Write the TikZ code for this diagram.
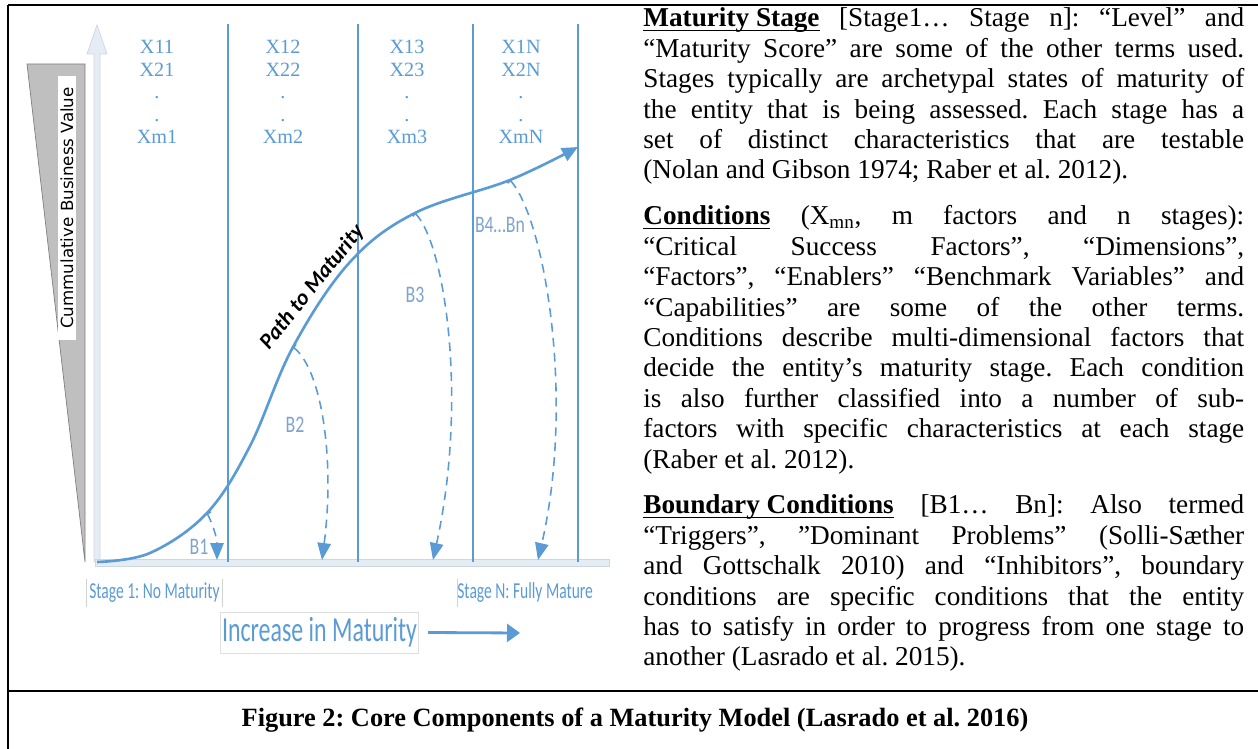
\documentclass[tikz,border=0pt]{standalone}
\usepackage{fontspec}
\setmainfont{Liberation Serif}
\newfontfamily\carlito{Carlito}
\newfontfamily\dejavu{DejaVu Sans}
\usepackage{xcolor}
\usepackage{graphicx}
\usetikzlibrary{arrows.meta,positioning}

\definecolor{mblue}{HTML}{5B9BD5}
\definecolor{bgrey}{HTML}{7FA3D0}
\definecolor{paleaxis}{HTML}{E6ECF3}
\definecolor{paleedge}{HTML}{CDD6E1}

% bold heading with a tight underline
\newsavebox{\headbox}
\newcommand{\headul}[1]{\sbox{\headbox}{\textbf{#1}}\rlap{\rule[-2.4pt]{\wd\headbox}{0.9pt}}\usebox{\headbox}}

\frenchspacing
\begin{document}
\begin{tikzpicture}[x=0.02cm, y=-0.02cm,
  border/.style={line width=1.4pt, black},
  stagebar/.style={mblue, line width=1.2pt},
  xlab/.style={font=\fontsize{11.5}{12.8}\selectfont, text=mblue, align=center, inner sep=0pt},
  blab/.style={font=\carlito\fontsize{13.5}{14}\selectfont, text=bgrey, inner sep=0pt},
  growth/.style={mblue, line width=1.5pt, -{Triangle[length=0.32cm, width=0.28cm]}},
  bdash/.style={mblue, line width=0.9pt, dash pattern=on 5pt off 3.5pt, {Bar[width=0.16cm]}-{Triangle[length=0.34cm, width=0.27cm]}},
  stagelab/.style={font=\carlito\fontsize{13}{14}\selectfont, text=mblue, inner sep=0pt, minimum height=0.54cm},
  para/.style={text width=342pt, align=justify, font=\fontsize{15.5}{17.3}\selectfont, inner sep=0pt, anchor=base west},
  >=Stealth
]
  \useasboundingbox (0,0) rectangle (1258,749);

  % frame of the figure
  \draw[border] (8,5) -- (1258,5);
  \draw[border] (8,5) -- (8,749);
  \draw[border] (8,691) -- (1258,691);

  % business value wedge (left)
  \draw[fill=gray!50, draw=gray] (27,64) -- (85,64) -- (85,562) -- cycle;
  \node[fill=white, rotate=90, font=\dejavu\fontsize{9.5}{10}\selectfont, inner sep=1pt,
        minimum width=5.28cm, minimum height=0.38cm] (value) at (67,208) {Cummulative Business Value};

  % axes
  \draw[fill=paleaxis, draw=paleedge] (94,562) -- (94,54) -- (87,54) -- (97,25) -- (107,54) -- (100,54) -- (100,562) -- cycle;
  \draw[fill=paleaxis, draw=paleedge] (95,559) rectangle (609,566);

  % stage separators
  \foreach \x in {228,358,473,578}
    \draw[stagebar] (\x,24) -- (\x,562);

  % conditions per stage
  \foreach \s/\cx in {1/157,2/283,3/407,N/521}
    \node[xlab] (x\s) at (\cx,92) {X1\s\\X2\s\\.\\.\\Xm\s};

  % path to maturity
  \coordinate (p0) at (97,562);
  \coordinate (b1s) at (207,513);
  \coordinate (b2s) at (293,347);
  \coordinate (b3s) at (415,213);
  \coordinate (b4s) at (510,180);
  \coordinate (p1) at (578,147);
  \draw[growth] plot[smooth, tension=0.6] coordinates {(p0) (150,553) (b1s) (250,446) (b2s) (350,262) (b3s) (b4s) (p1)};
  \node[font=\carlito\bfseries\itshape\fontsize{12.5}{13}\selectfont, rotate=51, anchor=base] (pathlab) at (317,291) {Path to Maturity};

  % boundary conditions
  \coordinate (b1e) at (217,560);
  \coordinate (b2e) at (322,560);
  \coordinate (b3e) at (433,560);
  \coordinate (b4e) at (538,560);
  \draw[bdash] (b1s) .. controls (213,525) and (217,538) .. (b1e);
  \draw[bdash] (b2s) .. controls (322,370) and (335,460) .. (b2e);
  \draw[bdash] (b3s) .. controls (445,245) and (468,400) .. (b3e);
  \draw[bdash] (b4s) .. controls (545,220) and (575,400) .. (b4e);
  \node[blab] (b1) at (199,547) {\scalebox{0.75}[1]{B1}};
  \node[blab] (b2) at (295,425) {\scalebox{0.75}[1]{B2}};
  \node[blab] (b3) at (415,295) {\scalebox{0.75}[1]{B3}};
  \node[blab] (b4) at (500,225) {\scalebox{0.75}[1]{B4…Bn}};

  % stage names under the axis
  \node[stagelab, minimum width=2.7cm] (s1) at (154.5,593) {\scalebox{0.68}[1]{Stage 1: No Maturity}};
  \node[stagelab, anchor=west] (sN) at (457,593) {\scalebox{0.68}[1]{Stage N: Fully Mature}};
  \draw[gray!35] (s1.north west) -- (s1.south west);
  \draw[gray!35] (s1.north east) -- (s1.south east);
  \draw[gray!35] (sN.north west) -- (sN.south west);

  % direction of maturity
  \node[draw=gray!25, font=\carlito\fontsize{20}{21}\selectfont, text=mblue, inner sep=1pt,
        minimum width=3.94cm, minimum height=0.82cm] (incr) at (319.5,632.5) {\scalebox{0.68}[1]{Increase in Maturity}};
  \coordinate (incrtip) at (520,633);
  \draw[mblue, line width=1.6pt, -{Triangle[length=0.26cm, width=0.36cm]}] ([xshift=0.18cm]incr.east) -- (incrtip);

  % explanations (right)
  \node[para] (stagetxt) at (643,27) {\headul{Maturity Stage} [Stage1… Stage n]: “Level” and\linebreak
    “Maturity Score” are some of the other terms used.\linebreak
    Stages typically are archetypal states of maturity of\linebreak
    the entity that is being assessed. Each stage has a\linebreak
    set of distinct characteristics that are testable\linebreak
    (Nolan and Gibson 1974; Raber et al. 2012).};
  \node[para] (condtxt) at (643,225) {\headul{Conditions} (X\textsubscript{mn}, m factors and n stages):\linebreak
    “Critical Success Factors”, “Dimensions”,\linebreak
    “Factors”, “Enablers” “Benchmark Variables” and\linebreak
    “Capabilities” are some of the other terms.\linebreak
    Conditions describe multi-dimensional factors that\linebreak
    decide the entity’s maturity stage. Each condition\linebreak
    is also further classified into a number of sub-\linebreak
    factors with specific characteristics at each stage\linebreak
    (Raber et al. 2012).};
  \node[para] (boundtxt) at (643,514) {\headul{Boundary Conditions} [B1… Bn]: Also termed\linebreak
    “Triggers”, ”Dominant Problems” (Solli-Sæther\linebreak
    and Gottschalk 2010) and “Inhibitors”, boundary\linebreak
    conditions are specific conditions that the entity\linebreak
    has to satisfy in order to progress from one stage to\linebreak
    another (Lasrado et al. 2015).};

  % caption
  \node[font=\bfseries\fontsize{15}{16}\selectfont] (caption) at (635,720) {Figure 2: Core Components of a Maturity Model (Lasrado et al. 2016)};
\end{tikzpicture}
\end{document}
